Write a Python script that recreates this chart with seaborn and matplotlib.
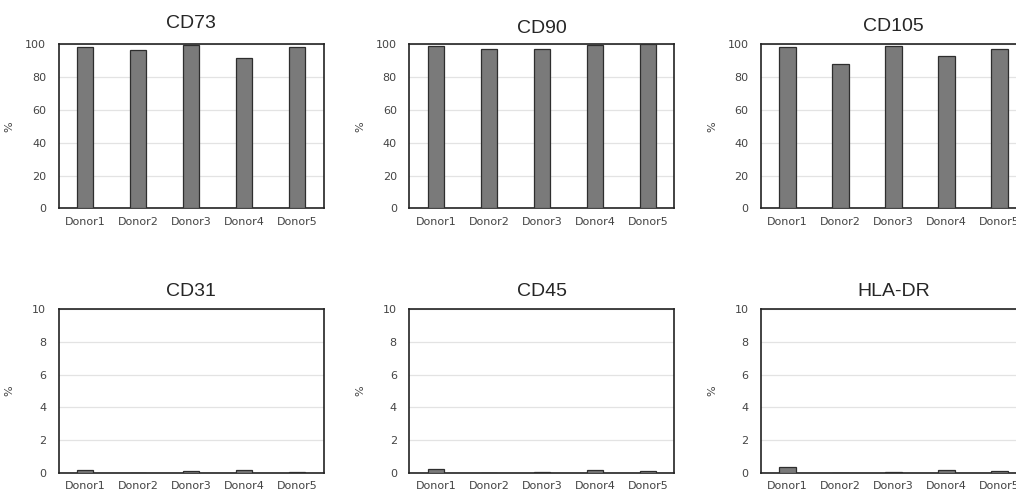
import pandas as pd
import seaborn as sns
import matplotlib.pyplot as plt

# data
donors = ['Donor1', 'Donor2', 'Donor3', 'Donor4', 'Donor5']
markers = ['CD73', 'CD90', 'CD105', 'CD31', 'CD45', 'HLA-DR']
cd73 = [98.2, 96.5, 99.8, 91.7, 98.6]
cd90 = [98.8, 97.2, 97.0, 99.9, 100.0]
cd105 = [98.4, 87.8, 99.2, 92.7, 97.0]
cd31 = [0.18, 0.0, 0.12, 0.2, 0.06]
cd45 = [0.25, 0.0, 0.07, 0.2, 0.1]
hladr = [0.35, 0.0, 0.04, 0.2, 0.1]
valores = [cd73, cd90, cd105, cd31, cd45, hladr]
ylims = [100, 100, 100, 10, 10, 10]
yticks_top = [0, 20, 40, 60, 80, 100]
yticks_bottom = [0, 2, 4, 6, 8, 10]

sns.set_style('white')
plt.rcParams['font.family'] = ['DejaVu Sans']

fig = plt.figure(figsize=(10.16, 4.94), dpi=100)

# posicoes dos eixos (esquerda, baixo) em fracao da figura
lefts = [0.0578, 0.4029, 0.749]
bottoms = [0.578, 0.0425]
largura = 0.2608
altura = 0.332
pads = [12, 8, 10, 9, 9, 9]

for i, marker in enumerate(markers):
    linha = i // 3
    col = i % 3
    ax = fig.add_axes([lefts[col], bottoms[linha], largura, altura])
    df = pd.DataFrame({'Donor': donors, 'Valor': valores[i]})
    sns.barplot(data=df, x='Donor', y='Valor', color='#7a7a7a', saturation=1,
                width=0.31, edgecolor='#2e2e2e', linewidth=0.9, ax=ax, zorder=3)
    ax.set_xlim(-0.5, 4.5)
    ax.set_ylim(0, ylims[i])
    ax.set_yticks(yticks_top if linha == 0 else yticks_bottom)
    ax.yaxis.grid(True, color='#e3e3e3', linewidth=0.9, zorder=0)
    ax.set_axisbelow(True)
    for s in ax.spines.values():
        s.set_color('#222222')
        s.set_linewidth(1.2)
    ax.tick_params(axis='both', length=0, labelsize=8, colors='#444444')
    ax.tick_params(axis='y', pad=9)
    ax.tick_params(axis='x', pad=6)
    ax.set_xlabel('')
    ax.set_ylabel('%', fontsize=8, color='#444444')
    ax.yaxis.set_label_coords(-0.166, 0.5)
    ax.set_title(marker, fontsize=14, family='Liberation Sans', pad=pads[i])

plt.savefig('out.png', dpi=100)
